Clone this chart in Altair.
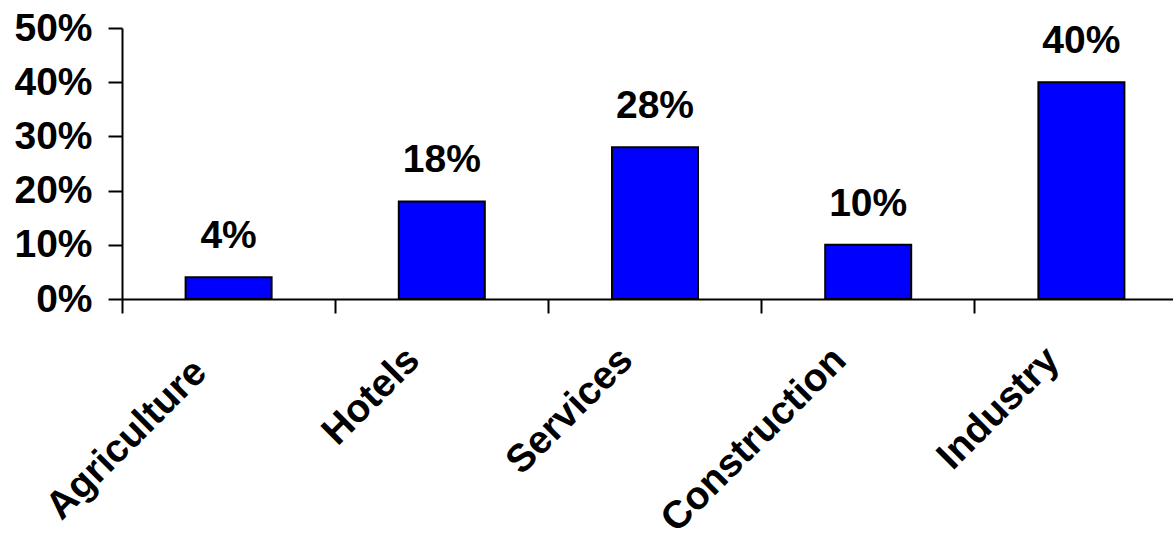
import altair as alt
import pandas as pd

categories = ["Agriculture", "Hotels", "Services", "Construction", "Industry"]
shares = [0.04, 0.18, 0.28, 0.10, 0.40]
y_ticks = [0, 0.1, 0.2, 0.3, 0.4, 0.5]

df = pd.DataFrame({"sector": categories, "share": shares})

FONT = "Liberation Sans"
FS = 39

x_enc = alt.X(
    "sector:N",
    sort=categories,
    scale=alt.Scale(range=[0, 1066], paddingInner=0, paddingOuter=0),
    axis=alt.Axis(
        title=None,
        bandPosition=0,
        labelAngle=-45,
        labelAlign="right",
        labelBaseline="top",
        labelOffset=-42,
        labelPadding={"condition": {"test": "datum.value === 'Agriculture'", "value": 39}, "value": 27},
        labelLimit=0,
        labelFont=FONT,
        labelFontSize=FS,
        labelFontWeight="bold",
        labelColor="black",
        labelOverlap=False,
        labelBound=False,
        tickSize=14,
        tickWidth=2,
        tickColor="black",
        domainColor="black",
        domainWidth=2,
        grid=False,
    ),
)

y_enc = alt.Y(
    "share:Q",
    scale=alt.Scale(domain=[0, 0.5], nice=False),
    axis=alt.Axis(
        title=None,
        values=y_ticks,
        format=".0%",
        labelFont=FONT,
        labelFontSize=FS,
        labelFontWeight="bold",
        labelColor="black",
        labelPadding=16,
        labelOverlap=False,
        labelBound=False,
        labelFlush=False,
        tickSize=14,
        tickWidth=2,
        tickColor="black",
        domainColor="black",
        domainWidth=2,
        grid=False,
    ),
)

bars = alt.Chart(df).mark_bar(
    color="#0000FF", stroke="black", strokeWidth=2, width=86
).encode(x=x_enc, y=y_enc)

labels = alt.Chart(df).mark_text(
    font=FONT, fontSize=FS, fontWeight="bold", color="black",
    baseline="alphabetic", dy=-29
).encode(x=x_enc, y=y_enc, text=alt.Text("share:Q", format=".0%"))

chart = alt.layer(bars, labels).properties(
    width=1051,
    height=271,
    background="white",
    view=alt.ViewBackground(stroke="transparent", strokeWidth=0, strokeOpacity=0),
    autosize=alt.AutoSizeParams(type="none"),
    padding={"left": 122, "top": 28, "right": 0, "bottom": 236},
).configure_view(
    stroke="transparent", strokeWidth=0, strokeOpacity=0
).configure_axis(grid=False, gridOpacity=0)

chart.save("out.html", embed_options={"renderer": "svg", "actions": False})
